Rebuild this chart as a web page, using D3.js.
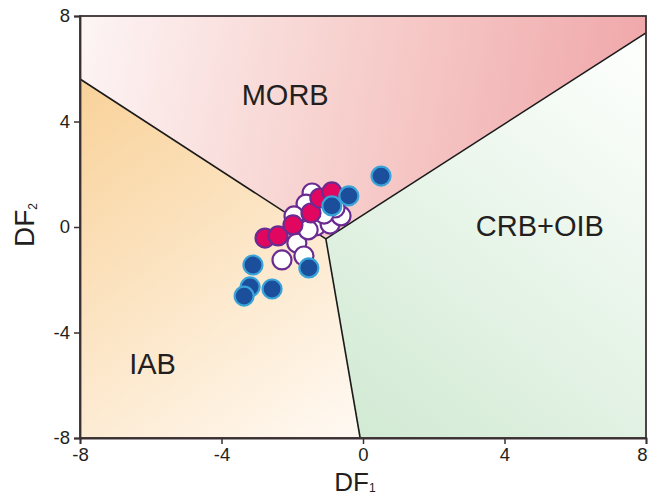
<!DOCTYPE html>
<html>
<head>
<meta charset="utf-8">
<script src="https://cdn.jsdelivr.net/npm/d3@7/dist/d3.min.js"></script>
<style>
  html, body { margin: 0; padding: 0; background: #fff; }
  svg { display: block; font-family: "Liberation Sans", Arial, sans-serif; }
</style>
</head>
<body>
<svg id="chart" width="648" height="497"></svg>
<script>
// Discriminant-function diagram (DF1 vs DF2)
const xTicks = [-8, -4, 0, 4, 8];
const yTicks = [-8, -4, 0, 4, 8];

// Field boundaries: three lines meeting at a triple junction
const junction = [-1.05, -0.45];
const boundaryLeft = [-8, 5.61];
const boundaryRight = [8, 7.36];
const boundaryBottom = [-0.08, -8];

// Samples: [DF1, DF2]
const groupWhite = [
  [-1.44, 1.29], [-1.61, 0.87], [-1.95, 0.42], [-1.87, -0.61], [-2.29, -1.25],
  [-1.67, -1.10], [-1.33, 0.04], [-0.93, 0.11], [-0.62, 0.42], [-0.79, 0.72],
  [-1.10, 0.49], [-1.55, -0.11]
];
const groupMagenta = [
  [-2.77, -0.42], [-2.40, -0.34], [-1.98, 0.08], [-1.47, 0.53], [-1.22, 1.10], [-0.88, 1.33]
];
const groupBlue = [
  [0.51, 1.93], [-0.40, 1.18], [-0.88, 0.80], [-1.53, -1.55], [-3.11, -1.44],
  [-3.19, -2.27], [-3.36, -2.62], [-2.57, -2.35]
];

const fieldLabels = [
  { text: "MORB", pos: [-2.2, 4.9] },
  { text: "CRB+OIB", pos: [5.0, -0.05] },
  { text: "IAB", pos: [-5.95, -5.3] }
];

const svg = d3.select("#chart");
const mLeft = 80, mRight = 646, mTop = 16, mBottom = 438;
const x = d3.scaleLinear().domain([-8, 8]).range([mLeft, mRight]);
const y = d3.scaleLinear().domain([-8, 8]).range([mBottom, mTop]);

const defs = svg.append("defs");
function grad(id, x1, y1, x2, y2, stops) {
  const g = defs.append("linearGradient").attr("id", id)
    .attr("gradientUnits", "userSpaceOnUse")
    .attr("x1", x1).attr("y1", y1).attr("x2", x2).attr("y2", y2);
  stops.forEach(s => g.append("stop").attr("offset", s[0]).attr("stop-color", s[1]));
}
grad("gMorb", x(-8), y(8), x(8), y(4), [[0, "#fdf5f5"], [0.45, "#f7d2cf"], [1, "#f0a6a9"]]);
grad("gIab", x(-8), y(5), x(-1), y(-8), [[0, "#f9d39c"], [1, "#fff8f0"]]);
grad("gOib", x(0), y(-8), x(8), y(6), [[0, "#d2ead4"], [1, "#fcfefc"]]);

const P = p => [x(p[0]), y(p[1])];
const poly = pts => "M" + pts.map(p => P(p).join(",")).join("L") + "Z";

// Field fills
svg.append("path").attr("d", poly([[-8, 8], [8, 8], boundaryRight, junction, boundaryLeft]))
  .attr("fill", "url(#gMorb)");
svg.append("path").attr("d", poly([boundaryLeft, junction, boundaryBottom, [-8, -8]]))
  .attr("fill", "url(#gIab)");
svg.append("path").attr("d", poly([junction, boundaryRight, [8, -8], boundaryBottom]))
  .attr("fill", "url(#gOib)");

// Boundary lines
const line = d3.line().x(d => x(d[0])).y(d => y(d[1]));
[boundaryLeft, boundaryRight, boundaryBottom].forEach(b => {
  svg.append("path").attr("d", line([junction, b]))
    .attr("fill", "none").attr("stroke", "#1a1a1a").attr("stroke-width", 1.6);
});

// Frame
svg.append("rect").attr("x", mLeft).attr("y", mTop)
  .attr("width", mRight - mLeft).attr("height", mBottom - mTop)
  .attr("fill", "none").attr("stroke", "#3a3032").attr("stroke-width", 1.8);

// Axes (plain hyphen for negative labels)
const fmt = d => String(d);
const xAxis = svg.append("g").attr("transform", `translate(0,${mBottom})`)
  .call(d3.axisBottom(x).tickValues(xTicks).tickSize(6).tickPadding(4).tickFormat(fmt));
const yAxis = svg.append("g").attr("transform", `translate(${mLeft},0)`)
  .call(d3.axisLeft(y).tickValues(yTicks).tickSize(6).tickPadding(4).tickFormat(fmt));
[xAxis, yAxis].forEach(a => {
  a.select(".domain").attr("stroke", "#3a3032").attr("stroke-width", 1.8);
  a.selectAll(".tick line").attr("stroke", "#3a3032").attr("stroke-width", 1.5);
  a.selectAll(".tick text").attr("fill", "#231f20").attr("font-size", 18.5)
    .attr("font-family", "Liberation Sans, Arial, sans-serif");
});
// keep the last x label inside the page
xAxis.selectAll(".tick text").filter(d => d === 8).attr("dx", -4);

// Field labels
svg.selectAll("text.field").data(fieldLabels).enter().append("text")
  .attr("class", "field")
  .attr("x", d => x(d.pos[0])).attr("y", d => y(d.pos[1]))
  .attr("text-anchor", "middle").attr("dominant-baseline", "middle")
  .attr("font-size", 29).attr("fill", "#231f20")
  .text(d => d.text);

// Axis titles
const xt = svg.append("text").attr("x", x(0) - 8).attr("y", 490.5)
  .attr("text-anchor", "middle").attr("font-size", 26).attr("fill", "#231f20");
xt.append("tspan").text("DF");
xt.append("tspan").attr("font-size", 12).attr("dy", 1).text("1");

const yt = svg.append("text")
  .attr("transform", `translate(34,${y(0) - 2}) rotate(-90)`)
  .attr("text-anchor", "middle").attr("font-size", 28).attr("fill", "#231f20");
yt.append("tspan").text("DF");
yt.append("tspan").attr("font-size", 12).attr("dy", 3).text("2");

// Sample points
const r = 9.5;
function drawGroup(data, fill, stroke) {
  svg.append("g").selectAll("circle").data(data).enter().append("circle")
    .attr("cx", d => x(d[0])).attr("cy", d => y(d[1])).attr("r", r)
    .attr("fill", fill).attr("stroke", stroke).attr("stroke-width", 2.2);
}
drawGroup(groupWhite, "#ffffff", "#6b2c91");
drawGroup(groupMagenta, "#e1065f", "#6b2c91");
drawGroup(groupBlue, "#1b4f9c", "#39a3d9");
</script>
</body>
</html>
